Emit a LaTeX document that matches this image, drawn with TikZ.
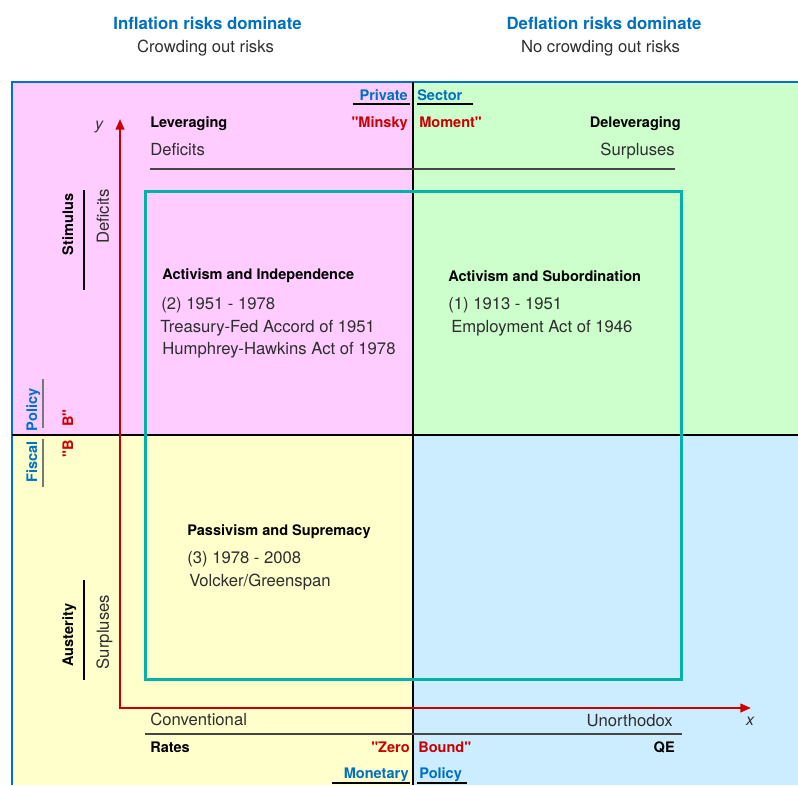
\documentclass[tikz,border=0pt]{standalone}
\usepackage{fontspec}
\setmainfont{TeX Gyre Heros}
\newfontfamily\qfont{TeX Gyre Heros}
\usetikzlibrary{arrows.meta}
\definecolor{qpink}{RGB}{255,204,255}
\definecolor{qgreen}{RGB}{204,255,204}
\definecolor{qyellow}{RGB}{255,255,204}
\definecolor{qblue}{RGB}{204,236,255}
\definecolor{frameblue}{RGB}{0,112,210}
\definecolor{txtblue}{RGB}{0,112,192}
\definecolor{axred}{RGB}{200,0,0}
\definecolor{tealbox}{RGB}{0,178,170}
\definecolor{dgray}{RGB}{70,70,70}
\definecolor{mgray}{RGB}{120,120,120}
\newcommand{\sq}{{\qfont\bfseries\symbol{34}}}
\begin{document}
\begin{tikzpicture}[x=0.75pt,y=-0.75pt,
  reg/.style={inner sep=0pt, text height=8.9pt, text depth=0pt, font=\fontsize{12.5}{14}\selectfont, text=black!82},
  bld/.style={inner sep=0pt, text height=7.8pt, text depth=0pt, font=\fontsize{10.9}{13}\selectfont\bfseries, text=black},
  head/.style={inner sep=0pt, text height=9pt, text depth=0pt, font=\fontsize{12.6}{14}\selectfont\bfseries, text=txtblue},
  blulbl/.style={bld, text=txtblue},
  redlbl/.style={bld, text=axred},
  axlbl/.style={inner sep=0pt, font=\fontsize{12}{14}\selectfont\itshape, text=black!80},
  divider/.style={black, line width=1.5pt},
  uline/.style={black, line width=1.5pt},
  gline/.style={dgray, line width=1.2pt},
  fline/.style={mgray, line width=1.2pt},
  axis/.style={axred, line width=1.5pt},
]
\useasboundingbox (0,0) rectangle (798,785);
% quadrant fills
\fill[qpink] (12,82) rectangle (413,435);
\fill[qgreen] (413,82) rectangle (798,435);
\fill[qyellow] (12,435) rectangle (413,785);
\fill[qblue] (413,435) rectangle (798,785);
% frame
\draw[frameblue, line width=1.5pt] (12,785) -- (12,82) -- (798,82);
% dividers
\draw[divider] (413,82) -- (413,785);
\draw[divider] (12,435) -- (798,435);
% teal box
\draw[tealbox, line width=2.25pt] (145,191) rectangle (681,679);
% axes
\coordinate (O) at (120,708);
\coordinate (ytip) at (120,119);
\coordinate (xtip) at (751,708);
\draw[axis, {Triangle[length=8pt,width=6.5pt]}-{Triangle[length=8pt,width=6.5pt]}] (ytip) -- (O) -- (xtip);
\node[axlbl] (ylab) at (99,127) {y};
\node[axlbl] (xlab) at (750,721) {x};
% headings
\node[head] (h1) at (207.5,23) {Inflation risks dominate};
\node[reg] (h1s) at (205.5,47) {Crowding out risks};
\node[head] (h2) at (604,23) {Deflation risks dominate};
\node[reg] (h2s) at (600.5,47) {No crowding out risks};
% private sector
\node[blulbl, anchor=east] (priv) at (408,95) {Private};
\node[blulbl, anchor=west] (sect) at (417,95) {Sector};
\draw[uline] (353,104) -- (410,104);
\draw[uline] (417,104) -- (473,104);
\node[redlbl, anchor=east] (minsky) at (408,122) {\sq Minsky};
\node[redlbl, anchor=west] (moment) at (419,122) {Moment\sq};
\node[bld, anchor=west] (lev) at (150,122) {Leveraging};
\node[bld, anchor=east] (delev) at (681,122) {Deleveraging};
\node[reg, anchor=west] (tdef) at (150,150) {Deficits};
\node[reg, anchor=east] (tsur) at (675,150) {Surpluses};
\draw[gline] (150,169) -- (675,169);
% quadrant texts
\node[bld, anchor=west] (q2t) at (162,274) {Activism and Independence};
\node[reg, anchor=west] (q2a) at (161,304) {(2) 1951 - 1978};
\node[reg, anchor=west] (q2b) at (160,327) {Treasury-Fed Accord of 1951};
\node[reg, anchor=west] (q2c) at (162,349) {Humphrey-Hawkins Act of 1978};
\node[bld, anchor=west] (q1t) at (448,276) {Activism and Subordination};
\node[reg, anchor=west] (q1a) at (448,304) {(1) 1913 - 1951};
\node[reg, anchor=west] (q1b) at (451,327) {Employment Act of 1946};
\node[bld, anchor=west] (q3t) at (187,530) {Passivism and Supremacy};
\node[reg, anchor=west] (q3a) at (187,558) {(3) 1978 - 2008};
\node[reg, anchor=west] (q3b) at (189,581) {Volcker/Greenspan};
% bottom
\node[reg, anchor=west] (conv) at (150,720) {Conventional};
\node[reg, anchor=east] (unor) at (673,721) {Unorthodox};
\draw[gline] (145,734) -- (682,734);
\node[bld, anchor=west] (rates) at (150,747) {Rates};
\node[bld, anchor=east] (qe) at (675,747) {QE};
\node[redlbl, anchor=east] (zero) at (410,747) {\sq Zero};
\node[redlbl, anchor=west] (bound) at (418,747) {Bound\sq};
\node[blulbl, anchor=east] (monet) at (409,773) {Monetary};
\node[blulbl, anchor=west] (mpol) at (419,773) {Policy};
\draw[uline] (332,783) -- (410,783);
\draw[uline] (417,783) -- (467,783);
% left side
\node[bld, rotate=90] (stim) at (68,224.5) {Stimulus};
\node[reg, rotate=90] (ldef) at (103,216.5) {Deficits};
\draw[uline] (84,190) -- (84,290);
\node[bld, rotate=90] (aust) at (68,635) {Austerity};
\node[reg, rotate=90] (lsur) at (103,632) {Surpluses};
\draw[uline] (84,580) -- (84,680);
\node[blulbl, rotate=90] (fpol) at (32,410) {Policy};
\node[blulbl, rotate=90] (fisc) at (32,462) {Fiscal};
\draw[fline] (43,379) -- (43,428);
\draw[fline] (43,439) -- (43,487);
\node[redlbl, rotate=90, anchor=east] (bb1) at (68,440) {\sq B};
\node[redlbl, rotate=90, anchor=west] (bb2) at (68,427) {B\sq};
\end{tikzpicture}
\end{document}
